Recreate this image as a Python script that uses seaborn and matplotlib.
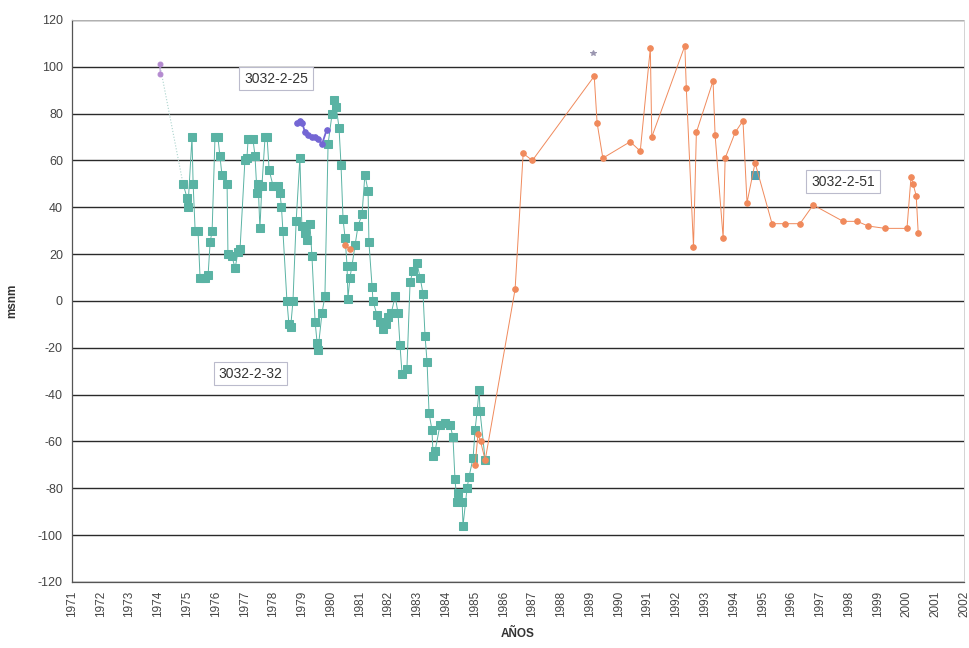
import pandas as pd
import matplotlib.pyplot as plt
import numpy as np
import seaborn as sns

# --- Data (year, msnm) ---

# 3032-2-32 (teal squares)
pozo32_start_year = [1974.05, 1974.86]
pozo32_start_msnm = [101, 50]
pozo32_year = [1974.86, 1975.00, 1975.03, 1975.17, 1975.21, 1975.28, 1975.38, 1975.45, 1975.55,
               1975.62, 1975.73, 1975.80, 1975.87, 1975.97, 1976.07, 1976.14, 1976.21, 1976.39, 1976.42,
               1976.56, 1976.67, 1976.77, 1976.84, 1977.01, 1977.08, 1977.12, 1977.29, 1977.36, 1977.43,
               1977.47, 1977.53, 1977.60, 1977.71, 1977.78, 1977.85, 1977.99, 1978.16, 1978.23, 1978.28,
               1978.33, 1978.47, 1978.54, 1978.60, 1978.68, 1978.79, 1978.92, 1978.99, 1979.10, 1979.17,
               1979.27, 1979.34, 1979.45, 1979.52, 1979.55, 1979.69, 1979.79, 1979.90, 1980.04, 1980.11,
               1980.18, 1980.28, 1980.35, 1980.42, 1980.49, 1980.56, 1980.59, 1980.66, 1980.73, 1980.84,
               1980.94, 1981.08, 1981.18, 1981.29, 1981.32, 1981.43, 1981.46, 1981.60, 1981.71, 1981.81,
               1981.90, 1981.98, 1982.10, 1982.23, 1982.33, 1982.40, 1982.47, 1982.64, 1982.75, 1982.85,
               1982.99, 1983.10, 1983.20, 1983.27, 1983.34, 1983.41, 1983.51, 1983.55, 1983.62, 1983.79,
               1983.96, 1984.14, 1984.24, 1984.31, 1984.38, 1984.42, 1984.56, 1984.59, 1984.73, 1984.80,
               1984.94, 1985.01, 1985.08, 1985.15, 1985.18, 1985.36]
pozo32_msnm = [50, 44, 40, 70, 50, 30, 30, 10, 10,
               10, 11, 25, 30, 70, 70, 62, 54, 50, 20,
               19, 14, 21, 22, 60, 61, 69, 69, 62, 46,
               50, 31, 49, 70, 70, 56, 49, 49, 46, 40,
               30, 0, -10, -11, 0, 34, 61, 32, 29, 26,
               33, 19, -9, -18, -21, -5, 2, 67, 80, 86,
               83, 74, 58, 35, 27, 15, 1, 10, 15, 24,
               32, 37, 54, 47, 25, 6, 0, -6, -9, -12,
               -10, -7, -5, 2, -5, -19, -31, -29, 8, 13,
               16, 10, 3, -15, -26, -48, -55, -66, -64, -53,
               -52, -53, -58, -76, -86, -82, -86, -96, -80, -75,
               -67, -55, -47, -38, -47, -68]
# lone square near 1995
pozo32_extra_year = [1994.74]
pozo32_extra_msnm = [54]

# 3032-2-25 (purple)
pozo25_a_year = [1974.05, 1974.07]
pozo25_a_msnm = [101, 97]
pozo25_b_year = [1978.82, 1978.92, 1979.00, 1979.10, 1979.20, 1979.34, 1979.45, 1979.55, 1979.69, 1979.85]
pozo25_b_msnm = [76, 77, 76, 72, 71, 70, 70, 69, 67, 73]
pozo25_c_year = [1989.10]
pozo25_c_msnm = [106]

# 3032-2-51 (orange)
pozo51_a_year = [1980.49, 1980.66]
pozo51_a_msnm = [24, 22]
pozo51_b_year = [1985.01, 1985.11, 1985.20, 1985.36, 1986.40, 1986.68, 1987.00, 1989.15, 1989.25, 1989.45,
                 1990.40, 1990.75, 1991.10, 1991.15, 1992.30, 1992.35, 1992.60, 1992.70, 1993.28, 1993.35,
                 1993.63, 1993.70, 1994.05, 1994.32, 1994.46, 1994.74, 1995.33, 1995.78, 1996.30, 1996.76,
                 1997.80, 1998.29, 1998.67, 1999.26, 2000.02, 2000.16, 2000.23, 2000.34, 2000.41]
pozo51_b_msnm = [-70, -57, -60, -68, 5, 63, 60, 96, 76, 61,
                 68, 64, 108, 70, 109, 91, 23, 72, 94, 71,
                 27, 61, 72, 77, 42, 59, 33, 33, 33, 41,
                 34, 34, 32, 31, 31, 53, 50, 45, 29]

year_ticks = list(range(1971, 2003))
msnm_ticks = list(range(-120, 121, 20))

# --- Plot ---
sns.set_style('white')
plt.rcParams['font.family'] = ['Liberation Sans', 'DejaVu Sans']

fig = plt.figure(figsize=(9.69, 6.48), dpi=100)
ax = fig.add_axes([0.0743, 0.1019, 0.9205, 0.8673])

teal = '#5ab3a4'
orange = '#f08a5c'
purple = '#7466d4'


def draw(x, y, color, marker, size, lw=0.7, ls='-'):
    d = pd.DataFrame({'x': x, 'y': y})
    sns.lineplot(data=d, x='x', y='y', ax=ax, color=color, marker=marker, markersize=size,
                 markeredgecolor=color, linewidth=lw, linestyle=ls, estimator=None, sort=False,
                 legend=False)


draw(pozo32_start_year, pozo32_start_msnm, '#a9d3cc', None, 0, lw=0.8, ls=':')
draw(pozo32_year, pozo32_msnm, teal, 's', 5.5)
draw(pozo32_extra_year, pozo32_extra_msnm, '#4f9fb0', 's', 6)
draw(pozo51_a_year, pozo51_a_msnm, orange, 'o', 4)
draw(pozo51_b_year, pozo51_b_msnm, orange, 'o', 4)
draw(pozo25_a_year, pozo25_a_msnm, '#b48ad0', 'o', 3.5)
draw(pozo25_b_year, pozo25_b_msnm, purple, 'o', 4, lw=1.3)
draw(pozo25_c_year, pozo25_c_msnm, '#9a96b0', '*', 4)

ax.set_xlim(1971, 2002)
ax.set_ylim(-120, 120)
ax.set_xticks(year_ticks)
ax.set_xticklabels([str(y) for y in year_ticks], rotation=90, fontsize=8.5, color='#444444')
ax.set_yticks(msnm_ticks)
ax.set_yticklabels([str(v) for v in msnm_ticks], fontsize=9, color='#444444')
ax.tick_params(axis='both', length=3, color='#555555', direction='out')
ax.yaxis.grid(True, color='#2a2a2a', linewidth=1.0)
ax.xaxis.grid(False)
ax.set_axisbelow(True)

for side in ['top', 'right']:
    ax.spines[side].set_color('#cccccc')
    ax.spines[side].set_linewidth(0.6)
for side in ['left', 'bottom']:
    ax.spines[side].set_color('#555555')
    ax.spines[side].set_linewidth(0.9)

ax.set_xlabel('AÑOS', fontsize=8.5, fontweight='bold', color='#333333', labelpad=8)
ax.set_ylabel('msnm', fontsize=8.5, fontweight='bold', color='#333333', labelpad=14)

box = dict(boxstyle='square,pad=0.35', facecolor='white', edgecolor='#bbbbcc', linewidth=0.8)
ax.text(1978.1, 95, '3032-2-25', fontsize=10, ha='center', va='center', color='#333333', bbox=box)
ax.text(1977.2, -31, '3032-2-32', fontsize=10, ha='center', va='center', color='#333333', bbox=box)
ax.text(1997.8, 51, '3032-2-51', fontsize=10, ha='center', va='center', color='#333333', bbox=box)

plt.savefig('out.png', dpi=100)
plt.close()
